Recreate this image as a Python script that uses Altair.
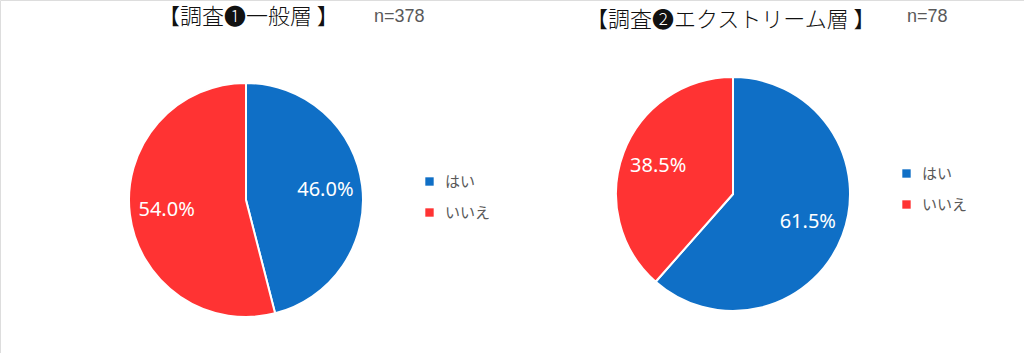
import altair as alt
import pandas as pd

categories = ["はい", "いいえ"]
survey1_values = [46.0, 54.0]
survey2_values = [61.5, 38.5]
colors = ["#0F6FC6", "#FF3333"]

title1 = "【調査❶一般層 】"
n1 = "n=378"
title2 = "【調査❷エクストリーム層 】"
n2 = "n=78"

def frame(values):
    return pd.DataFrame({
        "cat": categories,
        "value": values,
        "idx": list(range(len(categories))),
        "label": [f"{v:.1f}%" for v in values],
    })

df1 = frame(survey1_values)
df2 = frame(survey2_values)

R = 117
LR = 80

def pie(df, cx, cy, lx, ly):
    base = alt.Chart(df).encode(
        theta=alt.Theta("value:Q", stack=True),
        order=alt.Order("idx:O"),
    )
    arc = base.mark_arc(radius=R, stroke="white", strokeWidth=2).encode(
        x=alt.value(cx), y=alt.value(cy),
        color=alt.Color(
            "cat:N",
            scale=alt.Scale(domain=categories, range=colors),
            sort=categories,
            legend=alt.Legend(
                title=None, orient="none", legendX=lx, legendY=ly,
                symbolType="square", symbolSize=70, symbolStrokeWidth=0,
                labelFontSize=15, labelColor="#595959",
                labelFont="Noto Sans CJK JP", rowPadding=15, labelOffset=8,
            ),
        ),
    )
    txt = base.mark_text(radius=LR, fontSize=20, color="white",
                         font="Noto Sans").encode(
        x=alt.value(cx), y=alt.value(cy), text="label:N")
    return arc + txt

p1 = pie(df1, 246, 200, 422, 174)
p2 = pie(df2, 733, 194, 899, 166)

def label(text, x, y, size, color, font, weight=400):
    return alt.Chart(pd.DataFrame({"t": [text]})).mark_text(
        fontSize=size, color=color, font=font, align="left",
        baseline="middle", fontWeight=weight
    ).encode(x=alt.value(x), y=alt.value(y), text="t:N")

t1 = label(title1, 158, 17, 22, "#111111", "Noto Sans CJK JP", 300)
t1n = label(n1, 374, 17, 18, "#595959", "Liberation Sans")
t2 = label(title2, 586, 20, 22, "#111111", "Noto Sans CJK JP", 300)
t2n = label(n2, 907, 17, 18, "#595959", "Liberation Sans")

chart = alt.layer(p1, p2, t1, t1n, t2, t2n).resolve_scale(
    color="independent"
).properties(
    width=1024, height=353, padding=0,
    autosize=alt.AutoSizeParams(type="none"),
).configure_view(stroke=None).configure(background="white")

chart.save("out.html", embed_options={"renderer": "svg", "actions": False})
